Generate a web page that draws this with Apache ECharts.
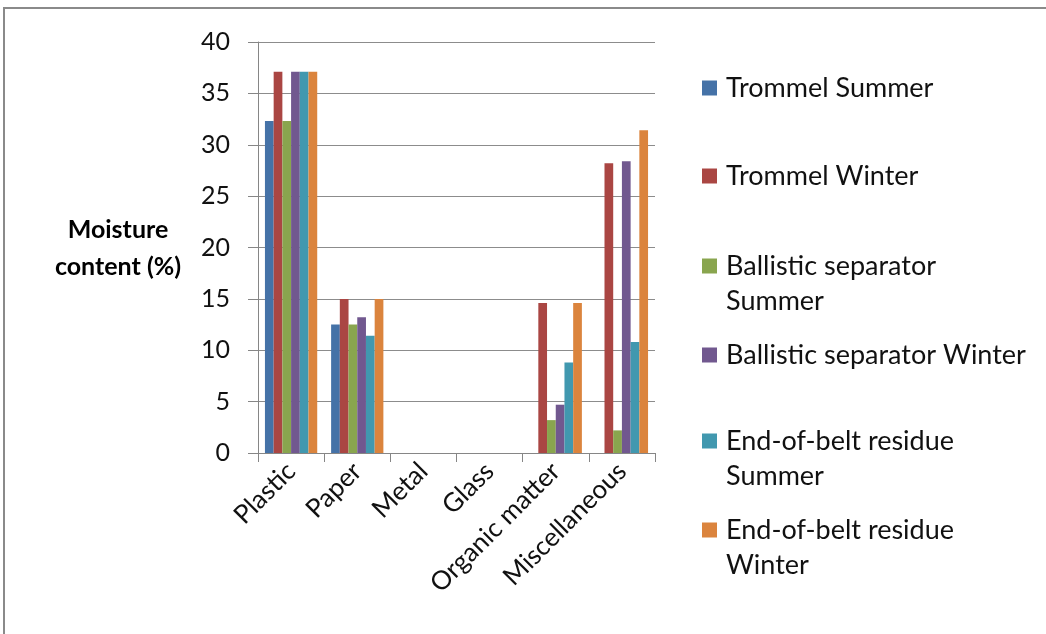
<!DOCTYPE html>
<html>
<head>
<meta charset="utf-8">
<script src="https://cdn.jsdelivr.net/npm/echarts@6/dist/echarts.min.js"></script>
<style>
  html, body { margin: 0; padding: 0; background: #ffffff; }
  #chart { width: 1046px; height: 634px; }
</style>
</head>
<body>
<div id="chart"></div>
<script>
// Material categories on the x axis
const categories = ['Plastic', 'Paper', 'Metal', 'Glass', 'Organic matter', 'Miscellaneous'];

// Moisture content (%) per stream and season
const trommelSummer   = [32.3, 12.5, 0, 0, 0, 0];
const trommelWinter   = [37.1, 15.0, 0, 0, 14.6, 28.2];
const ballisticSummer = [32.3, 12.5, 0, 0, 3.2, 2.2];
const ballisticWinter = [37.1, 13.2, 0, 0, 4.7, 28.4];
const beltSummer      = [37.1, 11.4, 0, 0, 8.8, 10.8];
const beltWinter      = [37.1, 15.0, 0, 0, 14.6, 31.4];

const seriesNames = [
  'Trommel Summer',
  'Trommel Winter',
  'Ballistic separator Summer',
  'Ballistic separator Winter',
  'End-of-belt residue Summer',
  'End-of-belt residue Winter'
];
// How each legend entry is wrapped
const legendLines = [
  ['Trommel Summer'],
  ['Trommel Winter'],
  ['Ballistic separator', 'Summer'],
  ['Ballistic separator Winter'],
  ['End-of-belt residue', 'Summer'],
  ['End-of-belt residue', 'Winter']
];
const seriesData = [trommelSummer, trommelWinter, ballisticSummer, ballisticWinter, beltSummer, beltWinter];
const colors = ['#4572A7', '#AA4643', '#89A54E', '#71588F', '#4198AF', '#DB843D'];

// y-axis ticks
const yMin = 0, yMax = 40, yStep = 5;

const FONT = 'Lato, "Open Sans", sans-serif';
const LINE_H = 35;
const legendCenters = [88, 176, 266, 355, 441, 530];

// Each legend entry is its own component so the spacing stays even;
// wrapped entries get an empty leading line so the marker sits on the first line.
const legends = seriesNames.map((name, i) => {
  const lines = legendLines[i];
  const multi = lines.length > 1;
  const text = multi ? '\n' + lines.join('\n') : lines[0];
  return {
    data: [name],
    orient: 'vertical',
    left: 702,
    top: legendCenters[i] - (multi ? LINE_H * 1.5 : LINE_H / 2),
    padding: 0,
    itemWidth: 15,
    itemHeight: 15,
    icon: 'rect',
    selectedMode: false,
    formatter: () => text,
    textStyle: {
      fontFamily: FONT,
      fontSize: 27,
      color: '#111',
      lineHeight: LINE_H,
      padding: [0, 0, 0, 4]
    }
  };
});

const chart = echarts.init(document.getElementById('chart'), null, { renderer: 'canvas' });
chart.setOption({
  animation: false,
  backgroundColor: '#ffffff',
  color: colors,
  textStyle: { fontFamily: FONT },
  grid: { left: 258, top: 42, right: 391, bottom: 181, containLabel: false },
  legend: legends,
  graphic: [
    {
      type: 'polyline',
      shape: { points: [[4, 700], [4, 8], [1100, 8]] },
      style: { stroke: '#8a8a8a', lineWidth: 2, fill: null },
      silent: true
    },
    {
      type: 'text',
      style: {
        text: 'Moisture\ncontent (%)',
        x: 118, y: 248,
        align: 'center',
        verticalAlign: 'middle',
        fontFamily: FONT,
        fontWeight: 'bold',
        fontSize: 25,
        lineHeight: 37,
        fill: '#000'
      },
      silent: true
    }
  ],
  xAxis: {
    type: 'category',
    data: categories,
    axisLine: { show: true, lineStyle: { color: '#868686', width: 1 } },
    axisTick: { show: true, length: 9, lineStyle: { color: '#868686' } },
    axisLabel: {
      rotate: 45,
      interval: 0,
      margin: 14,
      fontFamily: FONT,
      fontSize: 26,
      color: '#111'
    },
    splitLine: { show: false }
  },
  yAxis: {
    type: 'value',
    min: yMin,
    max: yMax,
    interval: yStep,
    axisLine: { show: true, lineStyle: { color: '#868686', width: 1 } },
    axisTick: { show: true, length: 10, lineStyle: { color: '#868686' } },
    axisLabel: {
      margin: 28,
      fontFamily: FONT,
      fontSize: 25,
      color: '#111'
    },
    splitLine: { show: true, lineStyle: { color: '#8c8c8c', width: 1 } }
  },
  series: seriesNames.map((name, i) => ({
    name: name,
    type: 'bar',
    data: seriesData[i],
    barGap: '0%',
    barCategoryGap: '21%',
    itemStyle: { color: colors[i] }
  }))
});
</script>
</body>
</html>
